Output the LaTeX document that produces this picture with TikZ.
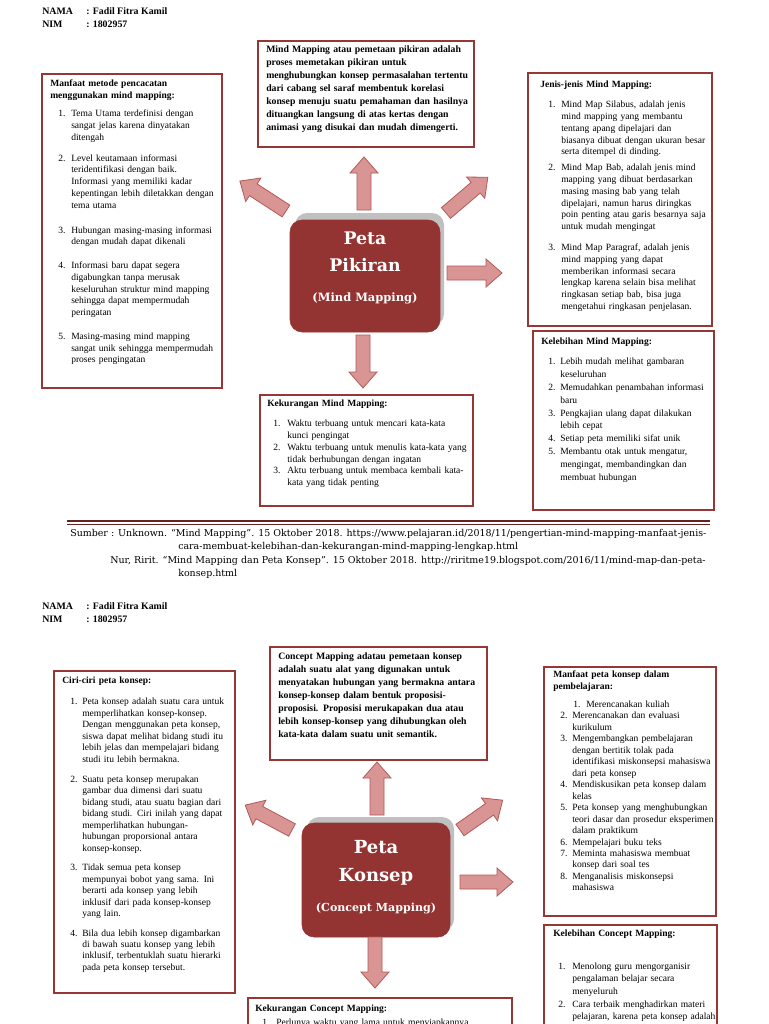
\documentclass[tikz,border=0pt]{standalone}
\usepackage{fontspec}
\setmainfont{Liberation Serif}
\newfontfamily\slab{DejaVu Serif}
\newfontfamily\cam{DejaVu Serif}
\usetikzlibrary{fit}
\definecolor{boxred}{RGB}{149,55,53}
\definecolor{cfill}{RGB}{148,52,50}
\definecolor{afill}{RGB}{217,149,148}
\definecolor{aline}{RGB}{180,88,86}
\definecolor{shad}{RGB}{192,192,192}
\definecolor{rulecol}{RGB}{99,36,35}
\newlength\nx \newlength\nw
\newcommand\setl[2]{\setlength\nx{#1pt}\setlength\nw{#2pt}}
\newcommand\itl[2]{\hspace*{\nx}\makebox[\nw][l]{#1}#2}
\newcommand\rf[1]{\fontsize{7.15}{#1}\selectfont}
\newcommand\blockarrow[4]{%
 \begin{scope}[shift={(#1,#2)},rotate=#3]
 \filldraw[barrowst] (0,-7) -- ({#4-16},-7) -- ({#4-16},-14) -- (#4,0) -- ({#4-16},14) -- ({#4-16},7) -- (0,7) -- cycle;
 \end{scope}}
\tikzset{
 tbox/.style={draw=boxred, line width=1pt, inner sep=0pt},
 txt/.style={anchor=north west, inner sep=0pt, align=left, text width=#1},
 barrowst/.style={fill=afill, draw=aline, line width=0.6pt},
 cbox/.style={fill=cfill, draw=cfill, rounded corners=9pt, inner sep=0pt},
 ctext/.style={anchor=base, inner sep=0pt, text=white, font=\slab\bfseries},
 hd/.style={anchor=base west, inner sep=0pt, font=\fontsize{7.4}{9}\selectfont\bfseries},
 src/.style={anchor=base west, inner sep=0pt, font=\cam\fontsize{7.1}{9}\selectfont},
}
\begin{document}
\begin{tikzpicture}[x=0.75pt,y=-0.75pt]
\useasboundingbox (0,0) rectangle (768,1024);
\clip (0,0) rectangle (768,1024);
\fill[white] (0,0) rectangle (768,1024);

% ===================== PAGE 1 =====================
\node[hd] (n1a) at (42,14.5) {NAMA};
\node[hd] (n1b) at (86,14.5) {: Fadil Fitra Kamil};
\node[hd] (n1c) at (42,27.5) {NIM};
\node[hd] (n1d) at (86,27.5) {: 1802957};

% top box
\node[tbox, fit={(258,41) (474,147)}] (top1) {};
\node[txt=210pt, font=\fontsize{7.3}{9.75}\selectfont\bfseries] (top1t) at (266,45) {%
Mind Mapping atau pemetaan pikiran adalah\\
proses memetakan pikiran untuk\\
menghubungkan konsep permasalahan tertentu\\
dari cabang sel saraf membentuk korelasi\\
konsep menuju suatu pemahaman dan hasilnya\\
dituangkan langsung di atas kertas dengan\\
animasi yang disukai dan mudah dimengerti.};

% left box
\node[tbox, fit={(42,74) (222,388)}] (left1) {};
\node[txt=200pt, font=\rf{8.8}] (left1t) at (50,80) {\setl{6}{9.75}%
\textbf{Manfaat metode pencacatan}\\
\textbf{menggunakan mind mapping:}\\[4.7pt]
\itl{1.}{Tema Utama terdefinisi dengan}\\
\itl{}{sangat jelas karena dinyatakan}\\
\itl{}{ditengah}\\[7pt]
\itl{2.}{Level keutamaan informasi}\\
\itl{}{teridentifikasi dengan baik.}\\
\itl{}{Informasi yang memiliki kadar}\\
\itl{}{kepentingan lebih diletakkan dengan}\\
\itl{}{tema utama}\\[10pt]
\itl{3.}{Hubungan masing-masing informasi}\\
\itl{}{dengan mudah dapat dikenali}\\[9pt]
\itl{4.}{Informasi baru dapat segera}\\
\itl{}{digabungkan tanpa merusak}\\
\itl{}{keseluruhan struktur mind mapping}\\
\itl{}{sehingga dapat mempermudah}\\
\itl{}{peringatan}\\[9pt]
\itl{5.}{Masing-masing mind mapping}\\
\itl{}{sangat unik sehingga mempermudah}\\
\itl{}{proses pengingatan}};

% right top box
\node[tbox, fit={(528,73) (712,326)}] (right1) {};
\node[txt=200pt, font=\rf{8.8}] (right1t) at (540,81) {\setl{6}{9.75}%
\textbf{Jenis-jenis Mind Mapping:}\\[6.2pt]
\itl{1.}{Mind Map Silabus, adalah jenis}\\
\itl{}{mind mapping yang membantu}\\
\itl{}{tentang apang dipelajari dan}\\
\itl{}{biasanya dibuat dengan ukuran besar}\\
\itl{}{serta ditempel di dinding.}\\[3.2pt]
\itl{2.}{Mind Map Bab, adalah jenis mind}\\
\itl{}{mapping yang dibuat berdasarkan}\\
\itl{}{masing masing bab yang telah}\\
\itl{}{dipelajari, namun harus diringkas}\\
\itl{}{poin penting atau garis besarnya saja}\\
\itl{}{untuk mudah mengingat}\\[7pt]
\itl{3.}{Mind Map Paragraf, adalah jenis}\\
\itl{}{mind mapping yang dapat}\\
\itl{}{memberikan informasi secara}\\
\itl{}{lengkap karena selain bisa melihat}\\
\itl{}{ringkasan setiap bab, bisa juga}\\
\itl{}{mengetahui ringkasan penjelasan.}};

% right bottom box
\node[tbox, fit={(533,331) (714,510)}] (right2) {};
\node[txt=200pt, font=\rf{9.6}] (right2t) at (541,338) {\setl{5.25}{9}%
\textbf{Kelebihan Mind Mapping:}\\[5.4pt]
\itl{1.}{Lebih mudah melihat gambaran}\\
\itl{}{keseluruhan}\\
\itl{2.}{Memudahkan penambahan informasi}\\
\itl{}{baru}\\
\itl{3.}{Pengkajian ulang dapat dilakukan}\\
\itl{}{lebih cepat}\\
\itl{4.}{Setiap peta memiliki sifat unik}\\
\itl{5.}{Membantu otak untuk mengatur,}\\
\itl{}{mengingat, membandingkan dan}\\
\itl{}{membuat hubungan}};

% bottom box
\node[tbox, fit={(260,395) (473,506)}] (bot1) {};
\node[txt=210pt, font=\rf{8.8}] (bot1t) at (267,400) {\setl{4.5}{10.5}%
\textbf{Kekurangan Mind Mapping:}\\[6.2pt]
\itl{1.}{Waktu terbuang untuk mencari kata-kata}\\
\itl{}{kunci pengingat}\\
\itl{2.}{Waktu terbuang untuk menulis kata-kata yang}\\
\itl{}{tidak berhubungan dengan ingatan}\\
\itl{3.}{Aktu terbuang untuk membaca kembali kata-}\\
\itl{}{kata yang tidak penting}};

% center
\fill[shad, rounded corners=9pt] (295,213) rectangle (444,326);
\node[cbox, fit={(290,220) (440,332)}] (c1) {};
\node[ctext, font=\slab\bfseries\fontsize{13}{15}\selectfont] (c1a) at (365,244) {Peta};
\node[ctext, font=\slab\bfseries\fontsize{13}{15}\selectfont] (c1b) at (365,271) {Pikiran};
\node[ctext, font=\slab\bfseries\fontsize{8.6}{10}\selectfont] (c1c) at (365,301) {(Mind Mapping)};

\blockarrow{364}{210}{90}{53}
\blockarrow{363}{335}{-90}{53}
\blockarrow{447}{273}{0}{55}
\blockarrow{286}{211}{147}{55}
\blockarrow{446}{213}{40.5}{55}

% rule and sources
\draw[rulecol, line width=2pt] (67,521) -- (710,521);
\draw[rulecol, line width=0.5pt] (67,524.5) -- (710,524.5);
\node[src] (s1) at (70,536.5) {Sumber : Unknown. “Mind Mapping”. 15 Oktober 2018. https://www.pelajaran.id/2018/11/pengertian-mind-mapping-manfaat-jenis-};
\node[src] (s2) at (178,549.5) {cara-membuat-kelebihan-dan-kekurangan-mind-mapping-lengkap.html};
\node[src] (s3) at (110,563.5) {Nur, Ririt. “Mind Mapping dan Peta Konsep”. 15 Oktober 2018. http://riritme19.blogspot.com/2016/11/mind-map-dan-peta-};
\node[src] (s4) at (178,576.5) {konsep.html};

% ===================== PAGE 2 =====================
\node[hd] (n2a) at (42,609.5) {NAMA};
\node[hd] (n2b) at (86,609.5) {: Fadil Fitra Kamil};
\node[hd] (n2c) at (42,622.5) {NIM};
\node[hd] (n2d) at (86,622.5) {: 1802957};

\node[tbox, fit={(270,647) (487,760)}] (top2) {};
\node[txt=210pt, font=\fontsize{7.3}{9.75}\selectfont\bfseries] (top2t) at (278,652) {%
Concept Mapping adatau pemetaan konsep\\
adalah suatu alat yang digunakan untuk\\
menyatakan hubungan yang bermakna antara\\
konsep-konsep dalam bentuk proposisi-\\
proposisi. Proposisi merukapakan dua atau\\
lebih konsep-konsep yang dihubungkan oleh\\
kata-kata dalam suatu unit semantik.};

\node[tbox, fit={(54,671) (235,993)}] (left2) {};
\node[txt=200pt, font=\rf{8.6}] (left2t) at (62,677) {\setl{6}{9}%
\textbf{Ciri-ciri peta konsep:}\\[7.2pt]
\itl{1.}{Peta konsep adalah suatu cara untuk}\\
\itl{}{memperlihatkan konsep-konsep.}\\
\itl{}{Dengan menggunakan peta konsep,}\\
\itl{}{siswa dapat melihat bidang studi itu}\\
\itl{}{lebih jelas dan mempelajari bidang}\\
\itl{}{studi itu lebih bermakna.}\\[6.5pt]
\itl{2.}{Suatu peta konsep merupakan}\\
\itl{}{gambar dua dimensi dari suatu}\\
\itl{}{bidang studi, atau suatu bagian dari}\\
\itl{}{bidang studi. Ciri inilah yang dapat}\\
\itl{}{memperlihatkan hubungan-}\\
\itl{}{hubungan proporsional antara}\\
\itl{}{konsep-konsep.}\\[6pt]
\itl{3.}{Tidak semua peta konsep}\\
\itl{}{mempunyai bobot yang sama. Ini}\\
\itl{}{berarti ada konsep yang lebih}\\
\itl{}{inklusif dari pada konsep-konsep}\\
\itl{}{yang lain.}\\[6pt]
\itl{4.}{Bila dua lebih konsep digambarkan}\\
\itl{}{di bawah suatu konsep yang lebih}\\
\itl{}{inklusif, terbentuklah suatu hierarki}\\
\itl{}{pada peta konsep tersebut.}};

\node[tbox, fit={(544,667) (716,916)}] (right3) {};
\node[txt=200pt, font=\rf{8.6}] (right3t) at (553,671) {\setl{5.25}{9}%
\textbf{Manfaat peta konsep dalam}\\
\textbf{pembelajaran:}\\[4.9pt]
\hspace*{15pt}\makebox[9.75pt][l]{1.}Merencanakan kuliah\\
\itl{2.}{Merencanakan dan evaluasi}\\
\itl{}{kurikulum}\\
\itl{3.}{Mengembangkan pembelajaran}\\
\itl{}{dengan bertitik tolak pada}\\
\itl{}{identifikasi miskonsepsi mahasiswa}\\
\itl{}{dari peta konsep}\\
\itl{4.}{Mendiskusikan peta konsep dalam}\\
\itl{}{kelas}\\
\itl{5.}{Peta konsep yang menghubungkan}\\
\itl{}{teori dasar dan prosedur eksperimen}\\
\itl{}{dalam praktikum}\\
\itl{6.}{Mempelajari buku teks}\\
\itl{7.}{Meminta mahasiswa membuat}\\
\itl{}{konsep dari soal tes}\\
\itl{8.}{Menganalisis miskonsepsi}\\
\itl{}{mahasiswa}};

\node[tbox, fit={(544,925) (717,1040)}] (right4) {};
\node[txt=200pt, font=\rf{9.5}] (right4t) at (553,930) {\setl{3.75}{10.5}%
\textbf{Kelebihan Concept Mapping:}\\[14.6pt]
\itl{1.}{Menolong guru mengorganisir}\\
\itl{}{pengalaman belajar secara}\\
\itl{}{menyeluruh}\\
\itl{2.}{Cara terbaik menghadirkan materi}\\
\itl{}{pelajaran, karena peta konsep adalah}\\
\itl{}{alat belajar yang tidak menimbulkan}};

\node[tbox, fit={(248,998) (512,1040)}] (bot2) {};
\node[txt=250pt, font=\rf{8.8}] (bot2t) at (255,1005) {\setl{5.25}{10.5}%
\textbf{Kekurangan Concept Mapping:}\\[1.5pt]
\itl{1.}{Perlunya waktu yang lama untuk menyiapkannya}};

\fill[shad, rounded corners=9pt] (307,817) rectangle (454,931);
\node[cbox, fit={(302,823) (450,937)}] (c2) {};
\node[ctext, font=\slab\bfseries\fontsize{13.5}{15}\selectfont] (c2a) at (376,853) {Peta};
\node[ctext, font=\slab\bfseries\fontsize{13.5}{15}\selectfont] (c2b) at (376,881) {Konsep};
\node[ctext, font=\slab\bfseries\fontsize{8.3}{10}\selectfont] (c2c) at (376,911) {(Concept Mapping)};

\blockarrow{377}{815}{90}{53}
\blockarrow{375}{937}{-90}{51}
\blockarrow{460}{882}{0}{53}
\blockarrow{292}{830}{152}{53}
\blockarrow{460}{830}{35}{52}
\end{tikzpicture}
\end{document}
